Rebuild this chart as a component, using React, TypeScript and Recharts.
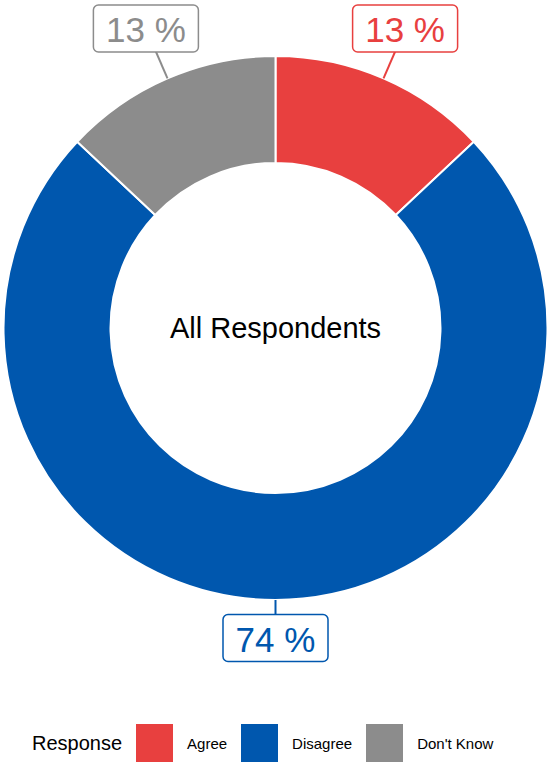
import React from "react";
import { PieChart, Pie, Cell, Legend, Label } from "recharts";

const categories = ["Agree", "Disagree", "Don't Know"];
const values = [13, 74, 13];
const colors = ["#E8403F", "#0057AE", "#8C8C8C"];
const centerTitle = "All Respondents";
const legendTitle = "Response";

const data = categories.map((name, i) => ({ name, value: values[i] }));

const FONT = "'Liberation Sans', Arial, Helvetica, sans-serif";
const RADIAN = Math.PI / 180;
const BOX_W = 105;
const BOX_H = 47;
const CX = 275.5;
const CY = 328;

const renderLabel = (props: any) => {
  const { cx, cy, midAngle, outerRadius, percent, index } = props;
  const color = colors[index];
  const cos = Math.cos(-midAngle * RADIAN);
  const sin = Math.sin(-midAngle * RADIAN);
  const ex = cx + outerRadius * cos;
  const ey = cy + outerRadius * sin;
  const r = outerRadius + 38;
  let lx = cx + r * cos;
  let ly = cy + r * sin;
  const minY = 5 + BOX_H / 2;
  if (sin < -0.5) {
    // labels in the upper part are pushed to the top margin along the ray
    ly = minY;
    lx = cx + ((ly - cy) / sin) * cos;
  }
  return (
    <g key={`lab-${index}`}>
      <line x1={ex} y1={ey} x2={lx} y2={ly} stroke={color} strokeWidth={2} />
      <rect
        x={lx - BOX_W / 2}
        y={ly - BOX_H / 2}
        width={BOX_W}
        height={BOX_H}
        rx={5}
        ry={5}
        fill="#ffffff"
        stroke={color}
        strokeWidth={1.5}
      />
      <text
        x={lx}
        y={ly + 1}
        textAnchor="middle"
        dominantBaseline="central"
        fill={color}
        fontSize={35}
        fontFamily={FONT}
      >
        {`${Math.round(percent * 100)} %`}
      </text>
    </g>
  );
};

const renderLegend = () => (
  <div
    style={{
      display: "flex",
      alignItems: "center",
      fontFamily: FONT,
      paddingLeft: 32,
      height: 38,
    }}
  >
    <span style={{ fontSize: 20, color: "#000", marginRight: 14 }}>{legendTitle}</span>
    {categories.map((c, i) => (
      <React.Fragment key={c}>
        <span
          style={{
            display: "inline-block",
            width: 37,
            height: 38,
            background: colors[i],
            marginRight: 14,
          }}
        />
        <span style={{ fontSize: 15, color: "#000", marginRight: 14 }}>{c}</span>
      </React.Fragment>
    ))}
  </div>
);

const renderCenter = () => (
  <text
    x={CX}
    y={CY}
    textAnchor="middle"
    dominantBaseline="central"
    fill="#000000"
    fontSize={29}
    fontFamily={FONT}
  >
    {centerTitle}
  </text>
);

export default function App() {
  return (
    <div style={{ width: 548, height: 762, position: "relative", fontFamily: FONT, overflow: "hidden" }}>
      <style>{`body{margin:0;}`}</style>
      <PieChart width={548} height={762} margin={{ top: 0, right: 0, bottom: 0, left: 0 }}>
        <Pie
          data={data}
          dataKey="value"
          nameKey="name"
          cx={CX}
          cy={CY}
          innerRadius={165}
          outerRadius={272}
          startAngle={90}
          endAngle={-270}
          stroke="#ffffff"
          strokeWidth={2}
          label={renderLabel}
          labelLine={false}
          isAnimationActive={false}
        >
          {data.map((d, i) => (
            <Cell key={d.name} fill={colors[i]} />
          ))}
          <Label content={renderCenter} position="center" />
        </Pie>
        <Legend
          content={renderLegend}
          wrapperStyle={{ position: "absolute", left: 0, top: 724, width: 548, height: 38 }}
        />
      </PieChart>
    </div>
  );
}
